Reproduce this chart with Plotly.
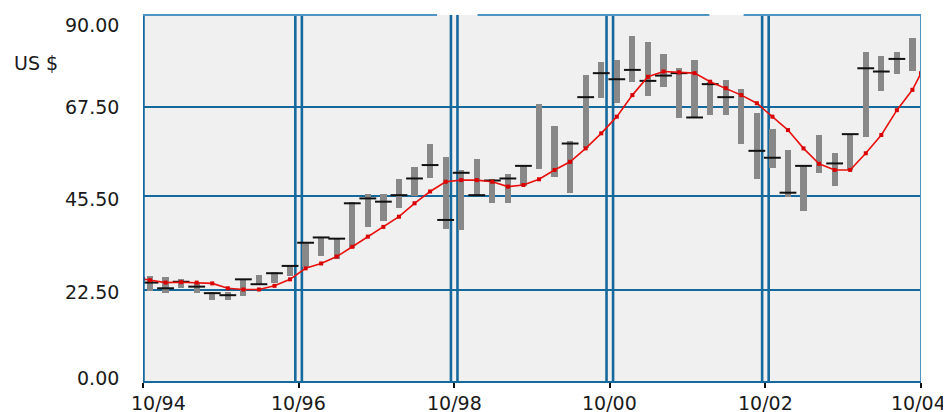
import plotly.graph_objects as go

# ---- data ----
x_tick_labels = ["10/94", "10/96", "10/98", "10/00", "10/02", "10/04"]
y_tick_values = [0.0, 22.5, 45.5, 67.5, 90.0]
y_tick_labels = ["0.00", "22.50", "45.50", "67.50", "90.00"]

bar_high = [25.8, 25.6, 25.0, 24.0, 22.0, 22.0, 25.0, 26.1, 26.9, 28.3,
            34.0, 35.5, 35.1, 44.1, 46.0, 46.0, 49.6, 52.7, 58.3, 55.1,
            51.9, 54.5, 49.6, 50.9, 52.9, 68.1, 62.7, 59.1, 75.2, 78.5,
            78.9, 84.8, 83.4, 80.3, 77.0, 78.9, 73.6, 74.0, 71.7, 65.8,
            61.9, 56.8, 53.1, 60.5, 56.0, 60.7, 80.8, 79.9, 80.8, 84.4]
bar_low = [22.2, 21.7, 22.8, 21.7, 19.9, 19.9, 21.0, 23.6, 24.0, 25.8,
           28.1, 30.7, 29.9, 32.6, 37.9, 39.4, 42.5, 45.5, 49.8, 37.5,
           37.1, 45.5, 43.8, 43.8, 48.0, 52.1, 50.1, 46.2, 57.2, 69.5,
           68.3, 73.6, 70.1, 72.4, 64.6, 64.6, 65.4, 65.4, 58.3, 49.7,
           52.3, 45.3, 41.9, 51.1, 48.0, 51.9, 60.1, 71.4, 75.5, 76.3]
bar_close = [24.2, 22.8, 24.4, 23.2, 21.6, 21.1, 25.0, 23.8, 26.5, 28.3,
             34.0, 35.3, 35.0, 43.7, 44.9, 44.1, 45.7, 49.8, 53.1, 39.6,
             51.2, 45.7, 49.3, 49.8, 52.9, None, None, 58.4, 69.8, 75.7,
             74.2, 76.5, 73.8, 75.1, 75.7, 64.8, 73.0, 69.8, None, 56.6,
             54.9, 46.3, 52.9, None, 53.5, 60.7, 76.9, 76.1, 79.2, None]
ma_start = 25.1
ma_values = [24.8, 24.2, 24.3, 24.2, 24.0, 22.8, 22.5, 22.5, 23.4, 25.0,
             27.7, 28.9, 30.6, 33.0, 35.5, 37.9, 40.4, 43.7, 46.6, 49.0,
             49.4, 49.4, 49.0, 47.8, 48.2, 49.6, 51.9, 53.9, 57.2, 60.9,
             65.0, 70.3, 74.8, 76.1, 75.9, 75.7, 73.6, 72.0, 70.3, 68.3,
             65.0, 61.7, 57.2, 53.4, 51.9, 51.9, 56.0, 60.5, 66.6, 71.6]
ma_end = 75.7

# ---- layout helpers ----
n = len(bar_high)
bar_offset = 0.45
bar_x = [i + bar_offset for i in range(n)]
tick_x = [i * 10 for i in range(len(x_tick_labels))]
ma_x = [0] + bar_x + [n]
ma_y = [ma_start] + ma_values + [ma_end]

BLUE = "#15699c"
LIGHT_BLUE = "#4f95c4"
FONT = "DejaVu Sans"

fig = go.Figure()

fig.add_trace(go.Bar(
    x=bar_x,
    y=[h - l for h, l in zip(bar_high, bar_low)],
    base=bar_low,
    width=0.4,
    marker=dict(color="#888888", line=dict(width=0)),
    showlegend=False,
    hoverinfo="skip",
))

fig.add_trace(go.Scatter(
    x=bar_x, y=bar_close, mode="markers",
    marker=dict(symbol="line-ew", size=12, line=dict(width=2, color="#111111")),
    showlegend=False, hoverinfo="skip",
))

fig.add_trace(go.Scatter(
    x=ma_x, y=ma_y, mode="lines+markers",
    line=dict(color="#e8100c", width=1.6),
    marker=dict(symbol="square", size=4, color="#d80000"),
    showlegend=False, hoverinfo="skip",
))

shapes = []
# left border (thick)
shapes.append(dict(type="line", xref="x", yref="paper", x0=0, x1=0, y0=0, y1=1,
                   line=dict(color=BLUE, width=3.5), layer="above"))
# right border
shapes.append(dict(type="line", xref="x", yref="paper", x0=n, x1=n, y0=0, y1=1,
                   line=dict(color=LIGHT_BLUE, width=2), layer="above"))
# double lines at inner year marks
for t in tick_x[1:-1]:
    for d in (-0.21, 0.21):
        shapes.append(dict(type="line", xref="x", yref="paper", x0=t + d, x1=t + d,
                           y0=0, y1=1, line=dict(color=BLUE, width=2.6), layer="below"))
# top border with two gaps
for a, b in [(0, 18.9), (21.5, 36.4), (38.6, 50)]:
    shapes.append(dict(type="line", xref="x", yref="paper", x0=a, x1=b, y0=1, y1=1,
                       line=dict(color=LIGHT_BLUE, width=2), layer="above"))

annotations = []
# y tick labels
y_label_shift = [3, -2, -3, 0, -10]
for v, lab, s in zip(y_tick_values, y_tick_labels, y_label_shift):
    annotations.append(dict(xref="paper", yref="y", x=0, y=v, text=lab, showarrow=False,
                            xanchor="right", yanchor="middle", xshift=-22, yshift=s,
                            font=dict(family=FONT, size=19, color="#1a1a1a")))
# x tick labels
for i, (t, lab) in enumerate(zip(tick_x, x_tick_labels)):
    annotations.append(dict(xref="x", yref="paper", x=t, y=0, text=lab, showarrow=False,
                            xanchor="center", yanchor="middle", yshift=-22,
                            xshift=15 if i == 0 else (-3 if i == len(tick_x) - 1 else 0),
                            font=dict(family=FONT, size=19, color="#1a1a1a")))
annotations.append(dict(xref="paper", yref="paper", x=0, y=1, text="US $", showarrow=False,
                        xanchor="left", yanchor="middle", xshift=-131, yshift=-48,
                        font=dict(family=FONT, size=19, color="#1a1a1a")))

# page body has an 8px margin, so the figure is sized/offset to compensate
fig.update_layout(
    width=943, height=404,
    margin=dict(l=135, r=30, t=7, b=31),
    paper_bgcolor="white",
    plot_bgcolor="#f0f0f0",
    bargap=0,
    shapes=shapes,
    annotations=annotations,
    xaxis=dict(range=[0, n], tickvals=tick_x, showticklabels=False,
               ticks="outside", ticklen=5, tickwidth=2, tickcolor="#111111",
               showgrid=False, zeroline=False,
               showline=True, linecolor=BLUE, linewidth=2),
    yaxis=dict(range=[0, 90], tickvals=y_tick_values[1:-1], showticklabels=False,
               showgrid=True, gridcolor=BLUE, gridwidth=2, zeroline=False,
               showline=False),
)

fig.write_html("out.html")
